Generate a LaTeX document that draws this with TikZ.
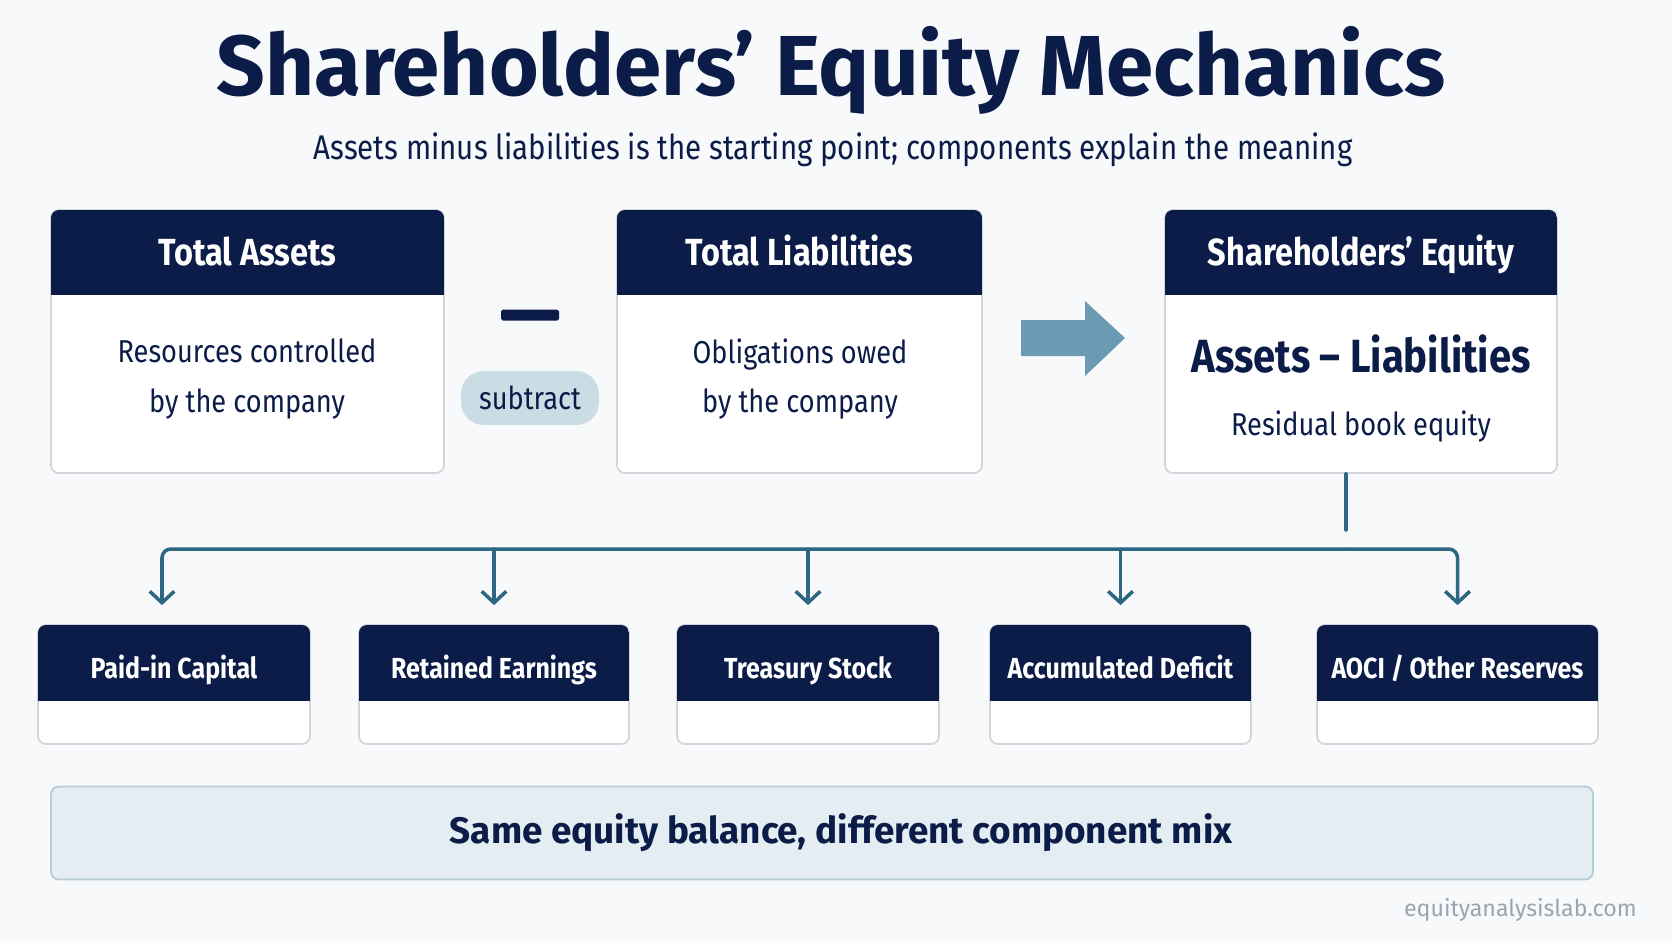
\documentclass[tikz,border=0pt]{standalone}
\usepackage{fontspec}
\setmainfont{Fira Sans}
\newfontfamily\condfont{Fira Sans}[FakeStretch=0.86]
\usetikzlibrary{arrows.meta}
\definecolor{navy}{HTML}{0C1C48}
\definecolor{steel}{HTML}{6B9BB2}
\definecolor{linkblue}{HTML}{2D6784}
\definecolor{pillblue}{HTML}{CADDE5}
\definecolor{bannerfill}{HTML}{E4EDF1}
\definecolor{bannerline}{HTML}{B3CCD7}
\definecolor{cardgray}{HTML}{D2D6DC}
\definecolor{pagebg}{HTML}{F8F9FA}
\definecolor{markgray}{HTML}{9AA5B2}
\tikzset{
  cardframe/.style={draw=cardgray, line width=1pt, fill=white, rounded corners=4.5pt, inner sep=0pt},
  headtext/.style={text=white, yshift=-4.2pt, text height=7.5pt, text depth=1.5pt, font=\condfont\bfseries\fontsize{21.5}{24}\selectfont},
  smallhead/.style={text=white, yshift=-5.8pt, text height=7.5pt, text depth=1.5pt, font=\condfont\bfseries\fontsize{16.5}{19}\selectfont},
  bodytext/.style={text=navy, align=center, font=\condfont\fontsize{18}{28}\selectfont},
  link/.style={draw=linkblue, line width=2pt, line cap=round, rounded corners=5pt,
    -{Straight Barb[length=6.5pt, width=14pt, line width=2pt]}, shorten >=19*0.02cm},
}
% card: name, x1, y1, x2, y2, header bottom, title, title style
\newcommand{\card}[8]{
  \node[cardframe, minimum width={(#4-#2)*0.02cm}, minimum height={(#5-#3)*0.02cm}] (#1) at ({(#2+#4)/2},{(#3+#5)/2}) {};
  \begin{scope}
    \clip[rounded corners=4.5pt] (#2,#3) rectangle (#4,#5);
    \fill[navy] (#2,#3) rectangle (#4,#6);
  \end{scope}
  \node[#8] (#1-head) at ({(#2+#4)/2},{(#3+#6)/2}) {#7};
}
\begin{document}
\begin{tikzpicture}[x=0.02cm, y=-0.02cm]
\useasboundingbox (0,0) rectangle (1672,941);
\fill[pagebg] (0,0) rectangle (1672,941);
% title
\node[text=navy, font=\bfseries\fontsize{48.5}{52}\selectfont] (title) at (831,70) {Shareholders’ Equity Mechanics};
\node[text=navy, font=\condfont\fontsize{19.5}{22}\selectfont] (subtitle) at (833,150) {Assets minus liabilities is the starting point; components explain the meaning};
% top row of cards
\card{assets}{51}{210}{444}{473}{295}{Total Assets}{headtext}
\card{liab}{617}{210}{982}{473}{295}{Total Liabilities}{headtext}
\card{equity}{1165}{210}{1557}{473}{295}{Shareholders’ Equity}{headtext}
\node[bodytext] (assets-body) at (247,379) {Resources controlled\\by the company};
\node[bodytext] (liab-body) at (800,379) {Obligations owed\\by the company};
\node[text=navy, font=\condfont\bfseries\fontsize{26.5}{30}\selectfont] (equity-calc) at (1361,354) {Assets – Liabilities};
\node[bodytext] (equity-body) at (1361,427) {Residual book equity};
% minus sign and subtract pill
\node[fill=navy, rounded corners=1pt, minimum width=58*0.02cm, minimum height=11*0.02cm, inner sep=0pt] (minus) at (530,315) {};
\node[fill=pillblue, rounded corners=13pt, minimum width=138*0.02cm, minimum height=54*0.02cm, inner sep=0pt, text=navy, font=\condfont\fontsize{18}{20}\selectfont] (pill) at (530,398) {subtract};
% big arrow
\fill[steel] (1021,320) -- (1085,320) -- (1085,301) -- (1125,338) -- (1085,376) -- (1085,356) -- (1021,356) -- cycle;
% row of components
\card{paid}{38}{625}{310}{744}{701}{Paid-in Capital}{smallhead}
\card{retained}{359}{625}{629}{744}{701}{Retained Earnings}{smallhead}
\card{treasury}{677}{625}{939}{744}{701}{Treasury Stock}{smallhead}
\card{deficit}{990}{625}{1251}{744}{701}{Accumulated Deficit}{smallhead}
\card{aoci}{1317}{625}{1598}{744}{701}{AOCI / Other Reserves}{smallhead}
% links
\coordinate (split) at (1346,549);
\draw[link, -] (split |- equity.south) -- (split);
\draw[link] (split) -| ([xshift=-12*0.02cm]paid.north);
\draw[link] (split) -| (aoci.north);
\draw[link] (retained.north |- split) -- (retained.north);
\draw[link] (treasury.north |- split) -- (treasury.north);
\draw[link] (deficit.north |- split) -- (deficit.north);
% banner
\node[draw=bannerline, line width=1pt, fill=bannerfill, rounded corners=4.5pt, minimum width=1542*0.02cm, minimum height=93*0.02cm] (banner) at (822,833) {};
\node[text=navy, font=\bfseries\fontsize{21}{24}\selectfont] (banner-text) at (841,833) {Same equity balance, different component mix};
\node[anchor=east, inner sep=0pt, text=markgray, font=\fontsize{13.2}{15}\selectfont] (site) at (1637,910) {equityanalysislab.com};
\end{tikzpicture}
\end{document}
